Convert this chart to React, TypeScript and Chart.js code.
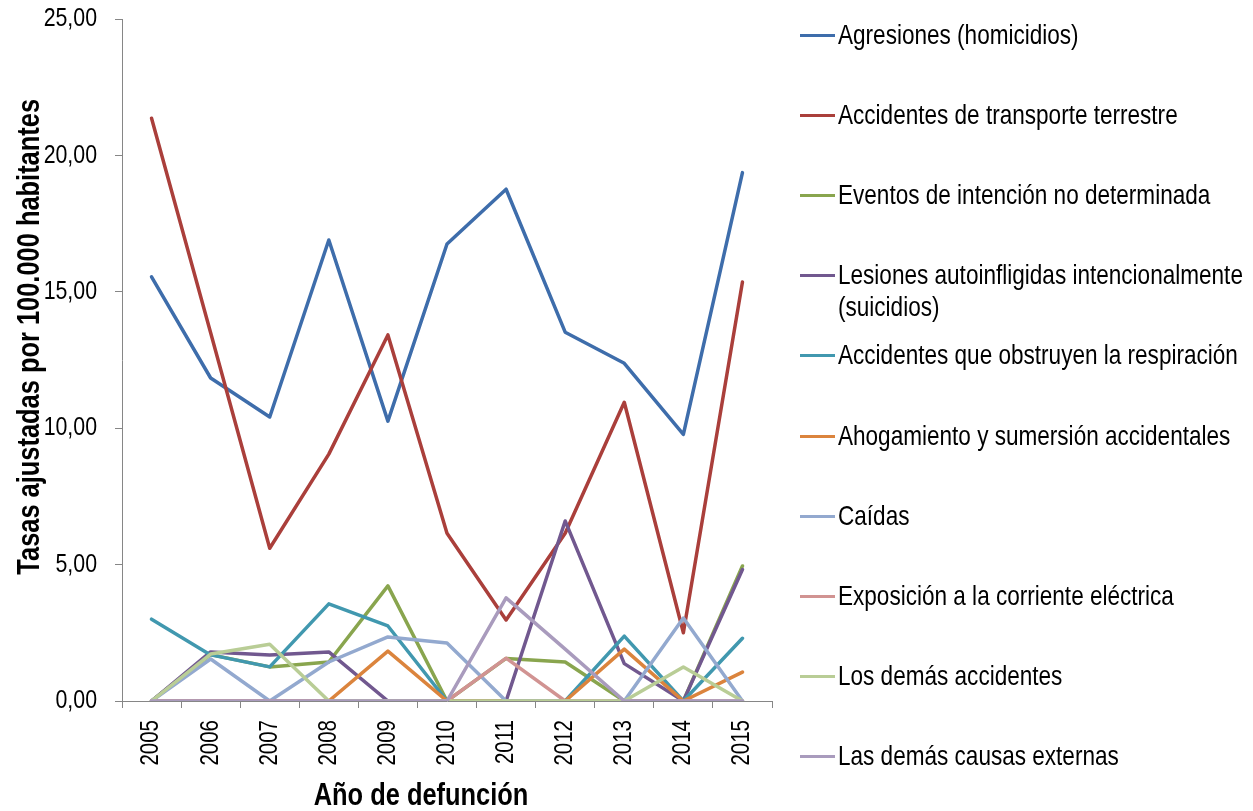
import React, { useEffect, useRef } from "react";
import { Chart, registerables } from "chart.js";

Chart.register(...registerables);

const FONT = "'Liberation Sans', Arial, sans-serif";
const NARROW = 0.82;

const years = ["2005", "2006", "2007", "2008", "2009", "2010", "2011", "2012", "2013", "2014", "2015"];

const agresiones = [15.55, 11.84, 10.41, 16.9, 10.26, 16.75, 18.76, 13.52, 12.38, 9.77, 19.37];
const transporte = [21.36, 13.5, 5.6, 9.05, 13.42, 6.15, 2.97, 6.15, 10.95, 2.5, 15.36];
const eventos = [0, 1.7, 1.25, 1.43, 4.22, 0, 1.56, 1.43, 0, 0, 4.95];
const lesiones = [0, 1.8, 1.69, 1.8, 0, 0, 0, 6.6, 1.37, 0, 4.82];
const obstruyen = [3.0, 1.69, 1.25, 3.56, 2.75, 0, 0, 0, 2.38, 0, 2.3];
const ahogamiento = [0, 0, 0, 0, 1.83, 0, 0, 0, 1.9, 0, 1.06];
const caidas = [0, 1.54, 0, 1.43, 2.35, 2.13, 0, 0, 0, 3.04, 0];
const corriente = [0, 0, 0, 0, 0, 0, 1.57, 0, 0, 0, 0];
const demasAccidentes = [0, 1.72, 2.08, 0, 0, 0, 0, 0, 0, 1.25, 0];
const demasCausas = [0, 0, 0, 0, 0, 0, 3.78, 1.9, 0, 0, 0];

const seriesNames = [
  "Agresiones (homicidios)",
  "Accidentes de transporte terrestre",
  "Eventos de intención no determinada",
  "Lesiones autoinfligidas intencionalmente (suicidios)",
  "Accidentes que obstruyen la respiración",
  "Ahogamiento y sumersión accidentales",
  "Caídas",
  "Exposición a la corriente eléctrica",
  "Los demás accidentes",
  "Las demás causas externas",
];
const seriesValues = [
  agresiones, transporte, eventos, lesiones, obstruyen,
  ahogamiento, caidas, corriente, demasAccidentes, demasCausas,
];
const seriesColors = [
  "#3E6DAB", "#AA3F3B", "#89A54E", "#71588F", "#4198AF",
  "#DB843D", "#93A9CF", "#D19392", "#B9CD96", "#A99BBD",
];

const yTicks = [0, 5, 10, 15, 20, 25];
const X_TITLE = "Año de defunción";
const Y_TITLE = "Tasas ajustadas por 100.000 habitantes";

// Condensed text rendering (the reference uses a narrow typeface)
const narrowTextPlugin = {
  id: "narrowText",
  beforeInit(chart: any) {
    const ctx = chart.ctx;
    const orig = CanvasRenderingContext2D.prototype.fillText;
    ctx.fillText = function (text: string, x: number, y: number, maxWidth?: number) {
      const w = this.measureText(text).width * NARROW;
      const mw = maxWidth !== undefined ? Math.min(maxWidth, w) : w;
      return orig.call(this, text, x, y, Math.max(mw, 0.01));
    };
  },
};

const titlesPlugin = {
  id: "axisTitlesCustom",
  afterDraw(chart: any) {
    const { ctx, chartArea } = chart;
    ctx.save();
    ctx.fillStyle = "#000";
    ctx.font = `bold 31px ${FONT}`;
    ctx.textAlign = "center";
    ctx.textBaseline = "middle";
    ctx.fillText(X_TITLE, chartArea.left + (chartArea.right - chartArea.left) * 0.46, 796);
    ctx.translate(30, chartArea.top + (chartArea.bottom - chartArea.top) * 0.466);
    ctx.rotate(-Math.PI / 2);
    ctx.fillText(Y_TITLE, 0, 0);
    ctx.restore();
  },
};

export default function App() {
  const ref = useRef<HTMLCanvasElement | null>(null);

  useEffect(() => {
    if (!ref.current) return;
    const n = seriesValues.length;
    const chart = new Chart(ref.current, {
      type: "line",
      data: {
        labels: years,
        datasets: seriesValues.map((vals, i) => ({
          label: seriesNames[i],
          data: vals,
          borderColor: seriesColors[i],
          backgroundColor: seriesColors[i],
          borderWidth: 3.5,
          pointRadius: 0,
          tension: 0,
          fill: false,
          borderJoinStyle: "round" as const,
          borderCapStyle: "round" as const,
          order: n - i,
        })),
      },
      options: {
        responsive: false,
        animation: false,
        devicePixelRatio: 1,
        layout: { padding: { top: 19, right: 481, bottom: 0, left: 0 } },
        plugins: {
          legend: { display: false },
          tooltip: { enabled: false },
          title: { display: false },
        },
        scales: {
          x: {
            type: "category",
            offset: true,
            grid: {
              offset: true,
              drawOnChartArea: false,
              drawTicks: true,
              tickLength: 7,
              color: "#868686",
              lineWidth: 1,
            },
            border: { color: "#868686", width: 1 },
            ticks: {
              autoSkip: false,
              minRotation: 90,
              maxRotation: 90,
              padding: 12,
              color: "#000",
              font: { family: FONT, size: 25 },
            },
            afterFit: (scale: any) => {
              scale.height = 110;
              scale.paddingLeft = 0;
              scale.paddingRight = 0;
            },
          },
          y: {
            min: 0,
            max: 25,
            afterBuildTicks: (scale: any) => {
              scale.ticks = yTicks.map((v) => ({ value: v }));
            },
            grid: {
              drawOnChartArea: false,
              drawTicks: true,
              tickLength: 7,
              color: "#868686",
              lineWidth: 1,
            },
            border: { color: "#868686", width: 1 },
            ticks: {
              padding: 18,
              color: "#000",
              font: { family: FONT, size: 26 },
              callback: (v: any) => Number(v).toFixed(2).replace(".", ","),
            },
            afterFit: (scale: any) => {
              scale.width = 122;
              scale.paddingTop = 0;
              scale.paddingBottom = 0;
            },
          },
        },
      },
      plugins: [narrowTextPlugin, titlesPlugin],
    });
    return () => chart.destroy();
  }, []);

  return (
    <div
      style={{
        position: "fixed",
        left: 0,
        top: 0,
        width: 1253,
        height: 811,
        background: "#fff",
        overflow: "hidden",
      }}
    >
      <canvas ref={ref} width={1253} height={811} style={{ position: "absolute", left: 0, top: 0 }} />
      {seriesNames.map((name, i) => (
        <div
          key={name}
          style={{
            position: "absolute",
            left: 800,
            top: 35 + i * 80.1 - 16,
            width: 453,
            fontFamily: FONT,
            fontSize: 27.5,
            lineHeight: "32px",
            color: "#000",
          }}
        >
          <div
            style={{
              position: "absolute",
              left: 0,
              top: 15,
              width: 35,
              height: 3,
              background: seriesColors[i],
            }}
          />
          <div
            style={{
              position: "absolute",
              left: 38,
              top: 0,
              width: 506,
              transform: `scaleX(${NARROW})`,
              transformOrigin: "left top",
            }}
          >
            {name}
          </div>
        </div>
      ))}
    </div>
  );
}
